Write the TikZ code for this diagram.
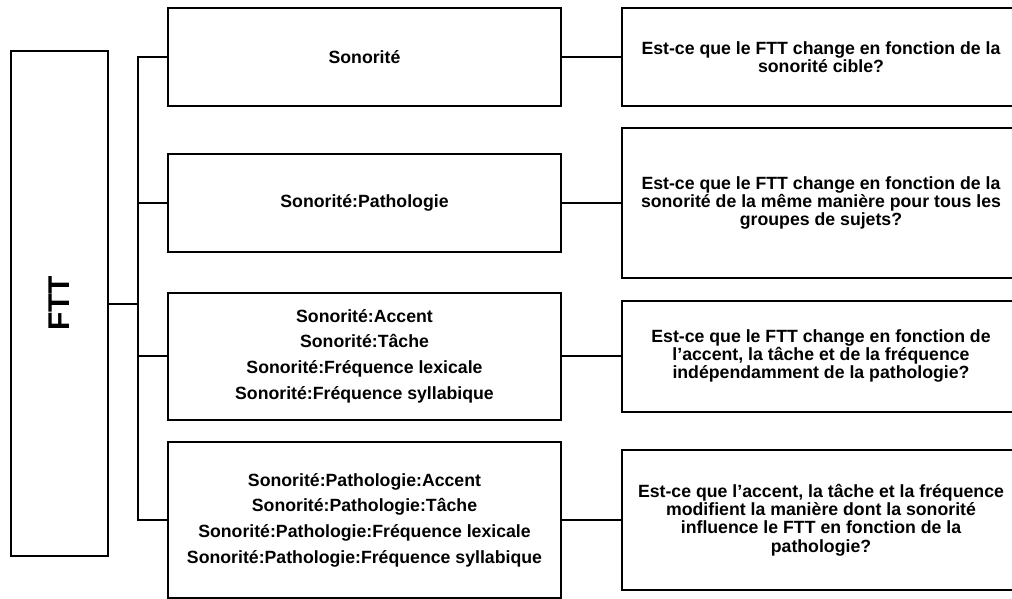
\documentclass[tikz,border=0pt]{standalone}
\usepackage{fontspec}
\usepackage{graphicx}
\setmainfont{Liberation Sans}
\begin{document}
\begin{tikzpicture}[x=1pt, y=-1pt, every node/.style={font=\bfseries},
  rootbox/.style={draw,line width=2pt,minimum width=97pt,minimum height=505pt,inner sep=0pt,font=\bfseries\fontsize{30}{30}\selectfont},
  termbox/.style={draw,line width=2pt,minimum width=393pt,align=center,inner sep=0pt,font=\bfseries\fontsize{17.7}{25.7}\selectfont},
  qbox/.style={draw,line width=2pt,minimum width=398pt,align=center,inner sep=0pt,font=\bfseries\fontsize{17.7}{18.3}\selectfont},
  link/.style={line width=2pt}]
\useasboundingbox (0,0) rectangle (1012,598);
\clip (0,0) rectangle (1012,598);
% root
\node[rootbox] (ftt) at (59.5,303.5) {\rotatebox{90}{FTT}};
\coordinate (tr) at (138,303.5);
% terms
\node[termbox,minimum height=98pt] (s1) at (364.5,57) {Sonorité};
\node[termbox,minimum height=98pt] (s2) at (364.5,203) {Sonorité:Pathologie};
\node[termbox,minimum height=127pt] (s3) at (364.5,356) {Sonorité:Accent\\Sonorité:Tâche\\Sonorité:Fréquence lexicale\\Sonorité:Fréquence syllabique};
\node[termbox,minimum height=156pt] (s4) at (364.5,520) {Sonorité:Pathologie:Accent\\Sonorité:Pathologie:Tâche\\Sonorité:Pathologie:Fréquence lexicale\\Sonorité:Pathologie:Fréquence syllabique};
% questions
\node[qbox,minimum height=98pt] (q1) at (821,57) {Est-ce que le FTT change en fonction de la\\sonorité cible?};
\node[qbox,minimum height=150pt] (q2) at (821,203) {Est-ce que le FTT change en fonction de la\\sonorité de la même manière pour tous les\\groupes de sujets?};
\node[qbox,minimum height=111pt] (q3) at (821,356) {Est-ce que le FTT change en fonction de\\l’accent, la tâche et de la fréquence\\indépendamment de la pathologie?};
\node[qbox,minimum height=140pt] (q4) at (821,520) {Est-ce que l’accent, la tâche et la fréquence\\modifient la manière dont la sonorité\\influence le FTT en fonction de la\\pathologie?};
% links
\draw[link] (ftt.east) -- (tr);
\foreach \i in {1,...,4} {
  \draw[link] (s\i.west) -| (tr);
  \draw[link] (s\i.east) -- (q\i.west);
}
\end{tikzpicture}
\end{document}
